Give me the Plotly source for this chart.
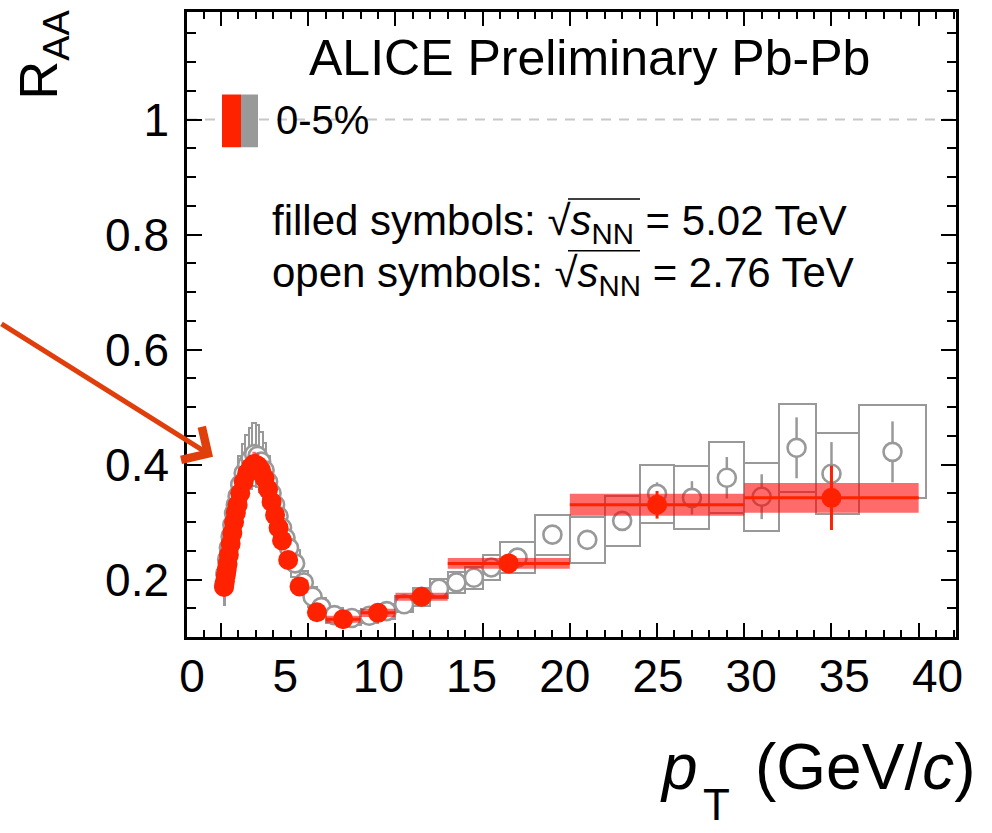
import plotly.graph_objects as go

# ---------------- data ----------------
# sqrt(sNN) = 5.02 TeV, 0-5 %  (filled red symbols)
pt_502 = [0.175, 0.225, 0.275, 0.325, 0.375, 0.45, 0.55, 0.65, 0.75, 0.85,
          0.95, 1.1, 1.3, 1.5, 1.7, 1.9, 2.1, 2.3, 2.5, 2.7,
          2.9, 3.1, 3.3, 3.5, 3.85, 4.5, 5.5, 7.0, 9.0, 11.5,
          16.5, 25.0, 35.0]
lo_502 = [0.15, 0.2, 0.25, 0.3, 0.35, 0.4, 0.5, 0.6, 0.7, 0.8,
          0.9, 1.0, 1.2, 1.4, 1.6, 1.8, 2.0, 2.2, 2.4, 2.6,
          2.8, 3.0, 3.2, 3.4, 3.6, 4.1, 5.0, 6.0, 8.0, 10.0,
          13.0, 20.0, 30.0]
hi_502 = [0.2, 0.25, 0.3, 0.35, 0.4, 0.5, 0.6, 0.7, 0.8, 0.9,
          1.0, 1.2, 1.4, 1.6, 1.8, 2.0, 2.2, 2.4, 2.6, 2.8,
          3.0, 3.2, 3.4, 3.6, 4.1, 5.0, 6.0, 8.0, 10.0, 13.0,
          20.0, 30.0, 40.0]
raa_502 = [0.187, 0.197, 0.207, 0.217, 0.227, 0.243, 0.262, 0.281, 0.300, 0.316,
           0.330, 0.350, 0.370, 0.385, 0.395, 0.401, 0.398, 0.390, 0.376, 0.357,
           0.335, 0.312, 0.290, 0.268, 0.234, 0.188, 0.143, 0.131, 0.142, 0.170,
           0.228, 0.330, 0.342]
stat_502 = [0.001, 0.001, 0.001, 0.001, 0.001, 0.001, 0.001, 0.001, 0.001, 0.001,
            0.001, 0.001, 0.001, 0.001, 0.001, 0.001, 0.001, 0.001, 0.001, 0.001,
            0.001, 0.001, 0.001, 0.001, 0.001, 0.001, 0.001, 0.002, 0.002, 0.003,
            0.006, 0.024, 0.056]
sys_502 = [0.014, 0.014, 0.015, 0.015, 0.016, 0.016, 0.017, 0.018, 0.018, 0.019,
           0.019, 0.020, 0.020, 0.021, 0.021, 0.021, 0.021, 0.020, 0.020, 0.019,
           0.018, 0.017, 0.016, 0.015, 0.013, 0.011, 0.006, 0.006, 0.007, 0.007,
           0.0095, 0.019, 0.026]

# sqrt(sNN) = 2.76 TeV, 0-5 %  (open grey symbols)
pt_276 = [0.175, 0.25, 0.35, 0.45, 0.55, 0.65, 0.75, 0.85, 0.95, 1.1,
          1.3, 1.5, 1.7, 1.9, 2.1, 2.3, 2.5, 2.7, 2.9, 3.1,
          3.3, 3.5, 3.7, 3.9, 4.25, 4.75, 5.25, 5.75, 6.5, 7.5,
          8.5, 9.5, 10.5, 11.5, 12.5, 13.5, 14.5, 15.5, 17.0, 19.0,
          21.0, 23.0, 25.0, 27.0, 29.0, 31.0, 33.0, 35.0, 38.5]
lo_276 = [0.15, 0.2, 0.3, 0.4, 0.5, 0.6, 0.7, 0.8, 0.9, 1.0,
          1.2, 1.4, 1.6, 1.8, 2.0, 2.2, 2.4, 2.6, 2.8, 3.0,
          3.2, 3.4, 3.6, 3.8, 4.0, 4.5, 5.0, 5.5, 6.0, 7.0,
          8.0, 9.0, 10.0, 11.0, 12.0, 13.0, 14.0, 15.0, 16.0, 18.0,
          20.0, 22.0, 24.0, 26.0, 28.0, 30.0, 32.0, 34.1, 36.6]
hi_276 = [0.2, 0.3, 0.4, 0.5, 0.6, 0.7, 0.8, 0.9, 1.0, 1.2,
          1.4, 1.6, 1.8, 2.0, 2.2, 2.4, 2.6, 2.8, 3.0, 3.2,
          3.4, 3.6, 3.8, 4.0, 4.5, 5.0, 5.5, 6.0, 7.0, 8.0,
          9.0, 10.0, 11.0, 12.0, 13.0, 14.0, 15.0, 16.0, 18.0, 20.0,
          22.0, 24.0, 26.0, 28.0, 30.0, 32.0, 34.1, 36.6, 40.4]
raa_276 = [0.190, 0.210, 0.235, 0.255, 0.275, 0.295, 0.315, 0.330, 0.345, 0.365,
           0.385, 0.400, 0.410, 0.418, 0.415, 0.405, 0.390, 0.370, 0.350, 0.330,
           0.310, 0.290, 0.272, 0.255, 0.228, 0.195, 0.170, 0.152, 0.138, 0.133,
           0.137, 0.145, 0.157, 0.170, 0.184, 0.195, 0.203, 0.221, 0.238, 0.278,
           0.269, 0.302, 0.349, 0.342, 0.377, 0.344, 0.429, 0.384, 0.422]
stat_276 = [0.002, 0.002, 0.002, 0.002, 0.002, 0.002, 0.002, 0.002, 0.002, 0.002,
            0.002, 0.002, 0.002, 0.002, 0.002, 0.002, 0.002, 0.002, 0.002, 0.002,
            0.002, 0.002, 0.002, 0.002, 0.002, 0.002, 0.002, 0.002, 0.002, 0.002,
            0.003, 0.003, 0.004, 0.004, 0.005, 0.005, 0.006, 0.006, 0.008, 0.010,
            0.012, 0.015, 0.020, 0.029, 0.036, 0.039, 0.053, 0.055, 0.053]
sys_276 = [0.035, 0.036, 0.038, 0.040, 0.041, 0.043, 0.045, 0.046, 0.047, 0.049,
           0.050, 0.052, 0.053, 0.055, 0.054, 0.052, 0.048, 0.045, 0.042, 0.039,
           0.036, 0.033, 0.030, 0.027, 0.024, 0.020, 0.017, 0.015, 0.013, 0.012,
           0.012, 0.013, 0.014, 0.016, 0.017, 0.018, 0.019, 0.021, 0.027, 0.035,
           0.040, 0.044, 0.050, 0.055, 0.062, 0.059, 0.077, 0.070, 0.081]

x_major = [0, 5, 10, 15, 20, 25, 30, 35, 40]
y_major = [0.2, 0.4, 0.6, 0.8, 1.0]
y_labels = ["0.2", "0.4", "0.6", "0.8", "1"]
unity = 1.0

# ---------------- style ----------------
RED = "rgb(255,34,0)"
BAND = "rgba(255,0,0,0.58)"
GREY = "rgb(153,153,153)"
FONT = "Liberation Sans, Arial, Helvetica, sans-serif"
W, H = 992, 833
L, R, T, B = 187, 956, 9, 637


def xp(px):
    return (px - L) / (R - L)


def yp(py):
    return (B - py) / (B - T)


fig = go.Figure()

# grey systematic boxes (outline only)
fig.add_trace(go.Bar(
    x=[(a + b) / 2 for a, b in zip(lo_276, hi_276)],
    y=[2 * s for s in sys_276],
    base=[v - s for v, s in zip(raa_276, sys_276)],
    width=[b - a for a, b in zip(lo_276, hi_276)],
    marker=dict(color="rgba(0,0,0,0)", line=dict(color=GREY, width=2)),
    showlegend=False, hoverinfo="skip"))

# grey open symbols with statistical errors
fig.add_trace(go.Scatter(
    x=pt_276, y=raa_276, mode="markers",
    marker=dict(symbol="circle", size=18, color="white",
                line=dict(color=GREY, width=2.6)),
    error_y=dict(type="data", array=stat_276, color=GREY, thickness=2.5, width=0),
    showlegend=False, hoverinfo="skip"))

# red systematic boxes (filled, semi-transparent)
bx, by = [], []
for a, b, v, s in zip(lo_502, hi_502, raa_502, sys_502):
    bx += [a, b, b, a, a, None]
    by += [v - s, v - s, v + s, v + s, v - s, None]
fig.add_trace(go.Scatter(
    x=bx, y=by, mode="lines", fill="toself", fillcolor=BAND,
    line=dict(width=0, color=BAND), showlegend=False, hoverinfo="skip"))

# red filled symbols
fig.add_trace(go.Scatter(
    x=pt_502, y=raa_502, mode="markers",
    marker=dict(symbol="circle", size=20, color=RED, line=dict(width=0)),
    error_y=dict(type="data", array=stat_502, color=RED, thickness=3, width=0),
    error_x=dict(type="data", symmetric=False,
                 array=[b - p for p, b in zip(pt_502, hi_502)],
                 arrayminus=[p - a for p, a in zip(pt_502, lo_502)],
                 color=RED, thickness=3, width=0),
    showlegend=False, hoverinfo="skip"))

# empty trace that carries the label axis
fig.add_trace(go.Scatter(x=[], y=[], xaxis="x2", yaxis="y", showlegend=False))

fig.update_layout(
    width=W, height=H,
    margin=dict(l=L, r=W - R, t=T, b=H - B, pad=0),
    paper_bgcolor="white", plot_bgcolor="white",
    barmode="overlay", bargap=0,
    font=dict(family=FONT, color="black"),
    xaxis=dict(range=[-1.95, 42.14], showgrid=False, zeroline=False,
               showline=True, linecolor="black", linewidth=2.5, mirror="ticks",
               ticks="inside", ticklen=14, tickwidth=2, tickcolor="black",
               tickvals=x_major, showticklabels=False,
               minor=dict(ticks="inside", ticklen=7, tickwidth=2, dtick=1,
                          tick0=0, tickcolor="black", showgrid=False)),
    xaxis2=dict(range=[-0.27, 40.99], overlaying="x", anchor="y", side="bottom",
                showgrid=False, zeroline=False, showline=False, ticks="",
                tickvals=x_major, ticktext=[str(v) for v in x_major],
                tickfont=dict(size=46, family=FONT), ticklabelstandoff=8),
    yaxis=dict(range=[0.1, 1.187], showgrid=False, zeroline=False,
               showline=True, linecolor="black", linewidth=2.5, mirror="ticks",
               ticks="inside", ticklen=15, tickwidth=2, tickcolor="black",
               tickvals=y_major, ticktext=y_labels,
               tickfont=dict(size=46, family=FONT), ticklabelstandoff=6,
               minor=dict(ticks="inside", ticklen=9, tickwidth=2, dtick=0.05,
                          tick0=0, tickcolor="black", showgrid=False)),
)

# unity reference line
fig.add_shape(type="line", xref="paper", yref="y", x0=0, x1=1, y0=unity, y1=unity,
              line=dict(color="rgb(200,200,200)", width=2, dash="10px,8px"),
              layer="below")

# legend swatch (red | grey)
fig.add_shape(type="rect", xref="paper", yref="paper",
              x0=xp(222), x1=xp(241), y0=yp(145), y1=yp(92),
              fillcolor=RED, line=dict(width=0))
fig.add_shape(type="rect", xref="paper", yref="paper",
              x0=xp(241), x1=xp(258), y0=yp(145), y1=yp(92),
              fillcolor=GREY, line=dict(width=0))

# overlines of the square-root signs
for x0, x1, yy in [(568, 640, 197), (568, 640, 249)]:
    fig.add_shape(type="line", xref="paper", yref="paper",
                  x0=xp(x0), x1=xp(x1), y0=yp(yy), y1=yp(yy),
                  line=dict(color="black", width=1.5))

ann = []
ann.append(dict(text="ALICE Preliminary Pb-Pb", x=xp(589), y=yp(55),
                font=dict(size=50)))
ann.append(dict(text="0-5%", x=xp(274), y=yp(118), xanchor="left",
                font=dict(size=40)))
rs = "√<i>s</i><sub>NN</sub>"
ann.append(dict(text="filled symbols: " + rs + " = 5.02 TeV", x=xp(270), y=yp(222),
                xanchor="left", font=dict(size=42)))
ann.append(dict(text="open symbols: " + rs + " = 2.76 TeV", x=xp(270), y=yp(274),
                xanchor="left", font=dict(size=42)))
ann.append(dict(text="R<sub>AA</sub>", x=xp(42), y=yp(52), textangle=-90,
                font=dict(size=54)))
ann.append(dict(text="<i>p</i>", x=xp(679), y=yp(768), font=dict(size=64)))
ann.append(dict(text="T", x=xp(716), y=yp(805), font=dict(size=44)))
ann.append(dict(text="(GeV/<i>c</i>)", x=xp(977), y=yp(768), xanchor="right",
                font=dict(size=64)))
for a in ann:
    a.update(xref="paper", yref="paper", showarrow=False)
    a.setdefault("xanchor", "center")
    a.setdefault("yanchor", "middle")
    fig.add_annotation(**a)

# orange arrow pointing at the low-pT peak
fig.add_annotation(xref="paper", yref="paper", x=xp(213), y=yp(456),
                   ax=-213, ay=-134, axref="pixel", ayref="pixel",
                   showarrow=True, arrowhead=4, arrowsize=1.5, arrowwidth=5,
                   arrowcolor="rgb(224,62,10)", text="")

fig.write_html("out.html")
